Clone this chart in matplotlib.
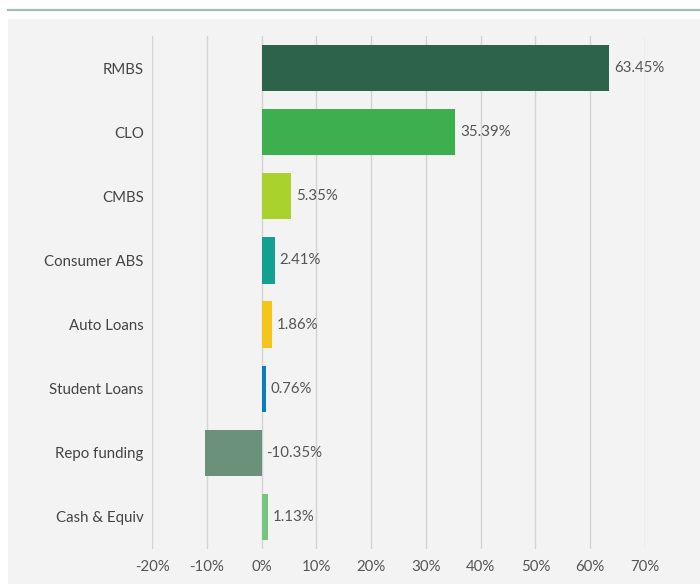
import matplotlib.pyplot as plt
from matplotlib.patches import Rectangle
from matplotlib.lines import Line2D

plt.rcParams['font.family'] = ['Lato', 'DejaVu Sans']

# Data
categories = ['RMBS', 'CLO', 'CMBS', 'Consumer ABS', 'Auto Loans',
              'Student Loans', 'Repo funding', 'Cash & Equiv']
values = [63.45, 35.39, 5.35, 2.41, 1.86, 0.76, -10.35, 1.13]
colors = ['#2c634a', '#3daf4f', '#a9d22d', '#12a091', '#f4c51b',
          '#0b7dbe', '#6b917b', '#73c580']
ticks = [-20, -10, 0, 10, 20, 30, 40, 50, 60, 70]

fig = plt.figure(figsize=(7, 5.84), dpi=100)
fig.patch.set_facecolor('white')

# grey panel + top rule
fig.patches.append(Rectangle((8 / 700, 0), 1, 1 - 19 / 584, transform=fig.transFigure,
                             facecolor='#f3f3f3', edgecolor='none', zorder=-10))
fig.lines.append(Line2D([8 / 700, 1], [1 - 9.5 / 584] * 2, transform=fig.transFigure,
                        color='#a7bdb1', linewidth=1.6, zorder=-10))

ax = fig.add_axes([152 / 700, 1 - 549 / 584, (645 - 152) / 700, (549 - 36) / 584])
ax.set_zorder(1)
ax.set_facecolor('#f3f3f3')

y = list(range(len(categories)))
ax.barh(y, values, height=0.72, color=colors, zorder=3)

for yi, v in zip(y, values):
    ax.annotate(f'{v:.2f}%', (max(v, 0), yi), xytext=(3.5, 0), textcoords='offset points',
                va='center', ha='left', fontsize=10.8, color='#555555', zorder=4)

ax.set_xlim(-20, 70)
ax.set_ylim(len(categories) - 0.5, -0.5)
ax.set_xticks(ticks)
ax.set_xticklabels([f'{t}%' for t in ticks], fontsize=10.8, color='#555555')
ax.set_yticks(y)
ax.set_yticklabels(categories, fontsize=10.8, color='#444444')
ax.tick_params(axis='both', length=0)
ax.tick_params(axis='x', pad=8)
ax.tick_params(axis='y', pad=6)
ax.grid(axis='x', color='#d3d3d3', linewidth=1, zorder=0)
ax.set_axisbelow(True)
for s in ax.spines.values():
    s.set_visible(False)

fig.savefig('out.png', dpi=100)
